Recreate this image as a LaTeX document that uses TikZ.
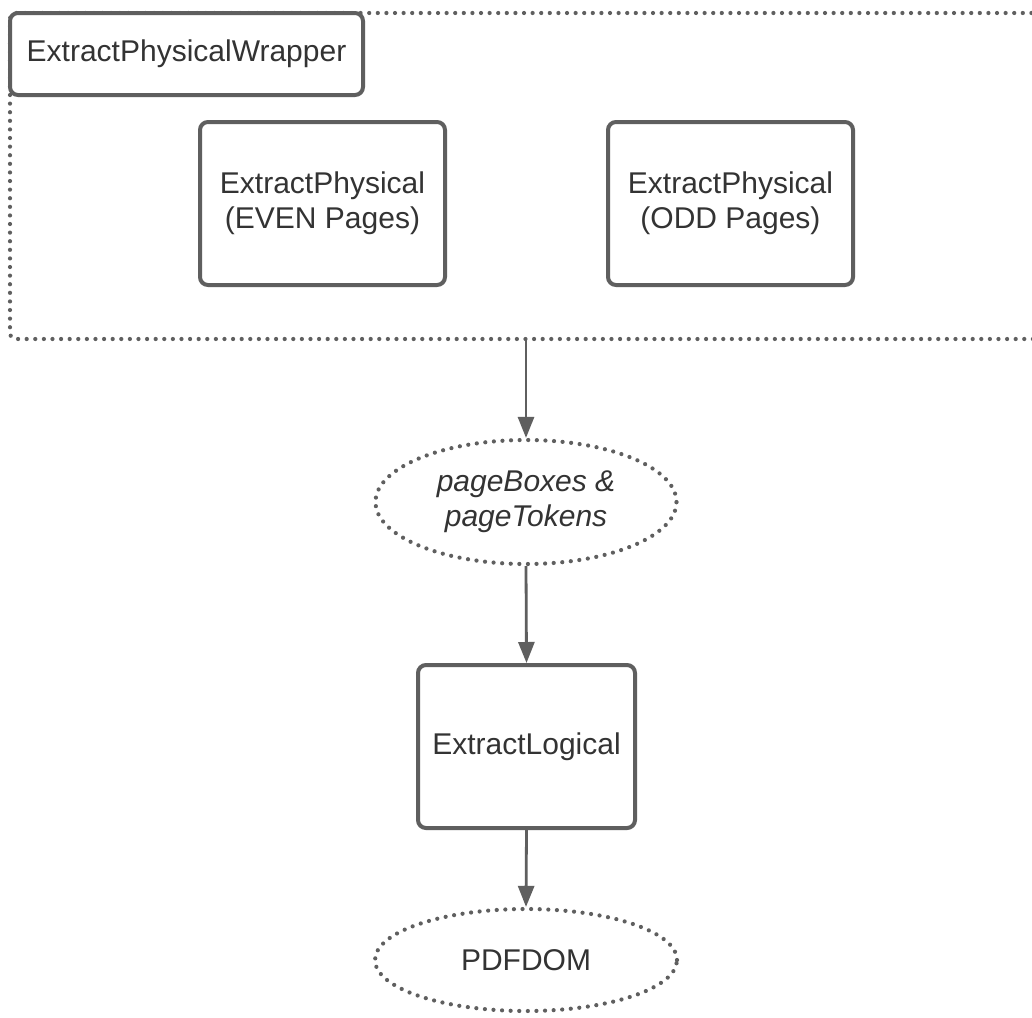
\documentclass[tikz,border=0pt]{standalone}
\usepackage{fontspec}
\setmainfont{Liberation Sans}
\usetikzlibrary{positioning, shapes.geometric, arrows.meta}

\definecolor{linegray}{HTML}{5F5F5F}
\definecolor{textgray}{HTML}{333333}

\tikzset{
    procbox/.style = {draw=linegray, line width=4pt, rounded corners=8pt, text=textgray,
        align=center, inner sep=0pt, font=\fontsize{30}{35}\selectfont},
    dataoval/.style = {ellipse, draw=linegray, line width=4.2pt, dash pattern=on 0pt off 8.6pt,
        line cap=round, text=textgray, align=center, inner sep=0pt,
        font=\fontsize{30}{35}\selectfont},
    flow/.style = {draw=linegray, line width=2.8pt, -{Triangle[length=21pt,width=16pt]}},
}

\begin{document}
\begin{tikzpicture}[x=1pt, y=-1pt]
        \useasboundingbox[fill=white] (0,0) rectangle (1032,1017);
        % wrapper frame, open on the right
        \draw[linegray, line width=4.2pt, dash pattern=on 0pt off 8.6pt, line cap=round, rounded corners=6pt]
            (1040,13) -- (10,13) -- (10,339) -- (1040,339);
        \coordinate (wrapbot) at (526,339);
        %---------------------------
        \node[procbox, fill=white, minimum width=353pt, minimum height=82pt] (wrap) at (186.5,54) {ExtractPhysicalWrapper};
        \node[procbox, minimum width=245pt, minimum height=163pt] (even) at (322.5,203.5) {ExtractPhysical\\(EVEN Pages)};
        \node[procbox, minimum width=245pt, minimum height=163pt] (odd) at (730.5,203.5) {ExtractPhysical\\(ODD Pages)};
        %---------------------------
        \node[dataoval, minimum width=301pt, minimum height=124pt] (tokens) at (526,502) {\itshape pageBoxes \&\\\itshape pageTokens};
        \node[procbox, minimum width=217pt, minimum height=163pt] (logical) at (526.5,746.5) {ExtractLogical};
        \node[dataoval, minimum width=302pt, minimum height=102pt] (dom) at (526,960) {PDFDOM};
        %--------------------------
        \path[flow] (wrapbot) -- (tokens.north);
        \path[flow] (tokens.south) -- (logical.north);
        \path[flow] (logical.south) -- (dom.north);
\end{tikzpicture}
\end{document}
